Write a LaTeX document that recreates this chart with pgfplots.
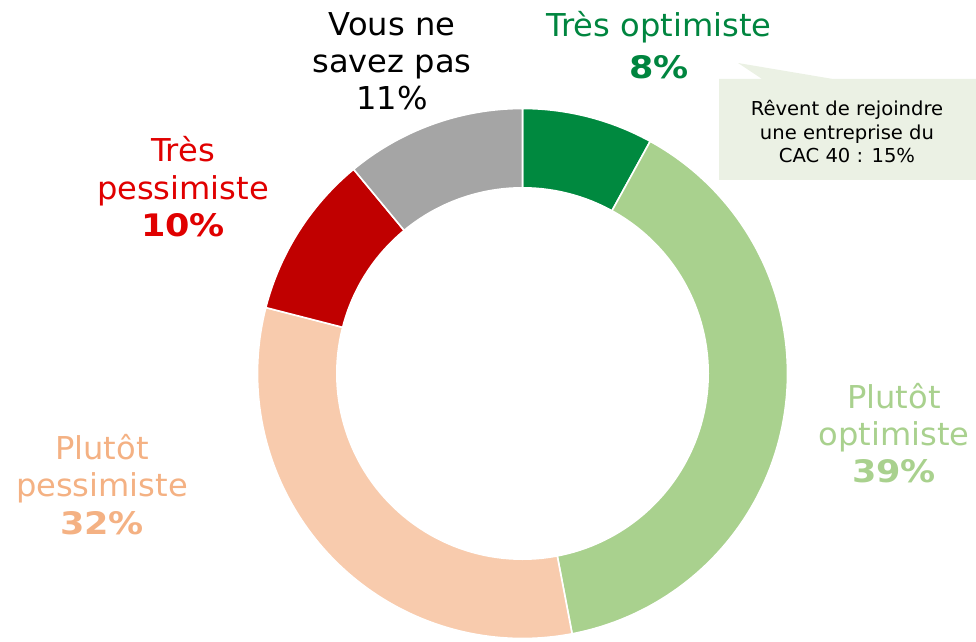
\documentclass[border=0pt]{standalone}
\usepackage{pgfplots}
\usepackage{pgfplotstable}
\pgfplotsset{compat=1.18}
\usepackage{fontspec}
\setmainfont{DejaVu Sans}[FakeStretch=1.02]
\newfontfamily\numfont{DejaVu Sans Bold}[FakeStretch=1.13]
\definecolor{dgreen}{HTML}{00893F}
\definecolor{dgreentxt}{HTML}{00853F}
\definecolor{lgreen}{HTML}{A9D18E}
\definecolor{peach}{HTML}{F8CBAD}
\definecolor{peachtxt}{HTML}{F4B183}
\definecolor{dred}{HTML}{C00000}
\definecolor{redtxt}{HTML}{E00000}
\definecolor{grey}{HTML}{A5A5A5}
\definecolor{callout}{HTML}{EBF1E4}

\pgfplotstableread{
label value
TresOptimiste 8
PlutotOptimiste 39
PlutotPessimiste 32
TresPessimiste 10
NeSaitPas 11
}\donutdata

\def\cx{522.5}
\def\cy{267.5}
\def\Rout{265}
\def\Rin{186.5}
\gdef\cumval{0}
\newcommand\slice[2]{%
  \pgfplotstablegetelem{#1}{value}\of\donutdata
  \pgfmathsetmacro\aend{90-3.6*\cumval}%
  \pgfmathsetmacro\astart{90-3.6*(\cumval+\pgfplotsretval)}%
  \pgfmathsetmacro\newcum{\cumval+\pgfplotsretval}%
  \xdef\cumval{\newcum}%
  \edef\temp{\noexpand\addplot[fill=#2, draw=white, line width=1.6pt, domain=\astart:\aend, samples=90]}%
  \temp ({\cx+\Rout*cos(x)},{\cy+\Rout*sin(x)}) -- (\cx,\cy) -- cycle;
}

\begin{document}
\begin{tikzpicture}
\begin{axis}[
  width=976pt, height=641pt, scale only axis,
  xmin=0, xmax=976, ymin=0, ymax=641,
  hide axis, clip=false,
]
\path (0,0) rectangle (976,641);
\slice{0}{dgreen}
\slice{1}{lgreen}
\slice{2}{peach}
\slice{3}{dred}
\slice{4}{grey}
\addplot[fill=white, draw=none, domain=0:360, samples=181] ({\cx+\Rin*cos(x)},{\cy+\Rin*sin(x)}) -- cycle;

% callout
\fill[callout] (719,562) -- (762,562) -- (738,578) -- (833,562) -- (976,562) -- (976,461) -- (719,461) -- cycle;
\begin{scope}[font=\fontsize{19.2}{23}\selectfont]
\node[anchor=base] at (847,641-115.5) {Rêvent de rejoindre};
\node[anchor=base] at (847,641-139.5) {une entreprise du};
\node[anchor=base] at (847,641-163) {CAC 40 : 15\%};
\end{scope}

\begin{scope}[font=\fontsize{31.5}{36}\selectfont]
\node[anchor=base, text=dgreentxt] at (659,641-37) {Très optimiste};
\node[anchor=base, text=dgreentxt, font=\fontsize{31}{36}\numfont] at (659,641-79) {8\%};

\node[anchor=base] at (392,641-36) {Vous ne};
\node[anchor=base] at (392,641-73) {savez pas};
\node[anchor=base] at (392,641-110) {11\%};

\node[anchor=base, text=redtxt] at (183,641-162) {Très};
\node[anchor=base, text=redtxt] at (183,641-199) {pessimiste};
\node[anchor=base, text=redtxt, font=\fontsize{31}{36}\numfont] at (183,641-236) {10\%};

\node[anchor=base, text=peachtxt] at (102,641-459) {Plutôt};
\node[anchor=base, text=peachtxt] at (102,641-496) {pessimiste};
\node[anchor=base, text=peachtxt, font=\fontsize{31}{36}\numfont] at (102,641-534) {32\%};

\node[anchor=base, text=lgreen] at (894,641-408) {Plutôt};
\node[anchor=base, text=lgreen] at (894,641-445) {optimiste};
\node[anchor=base, text=lgreen, font=\fontsize{31}{36}\numfont] at (894,641-482) {39\%};
\end{scope}
\end{axis}
\end{tikzpicture}
\end{document}
